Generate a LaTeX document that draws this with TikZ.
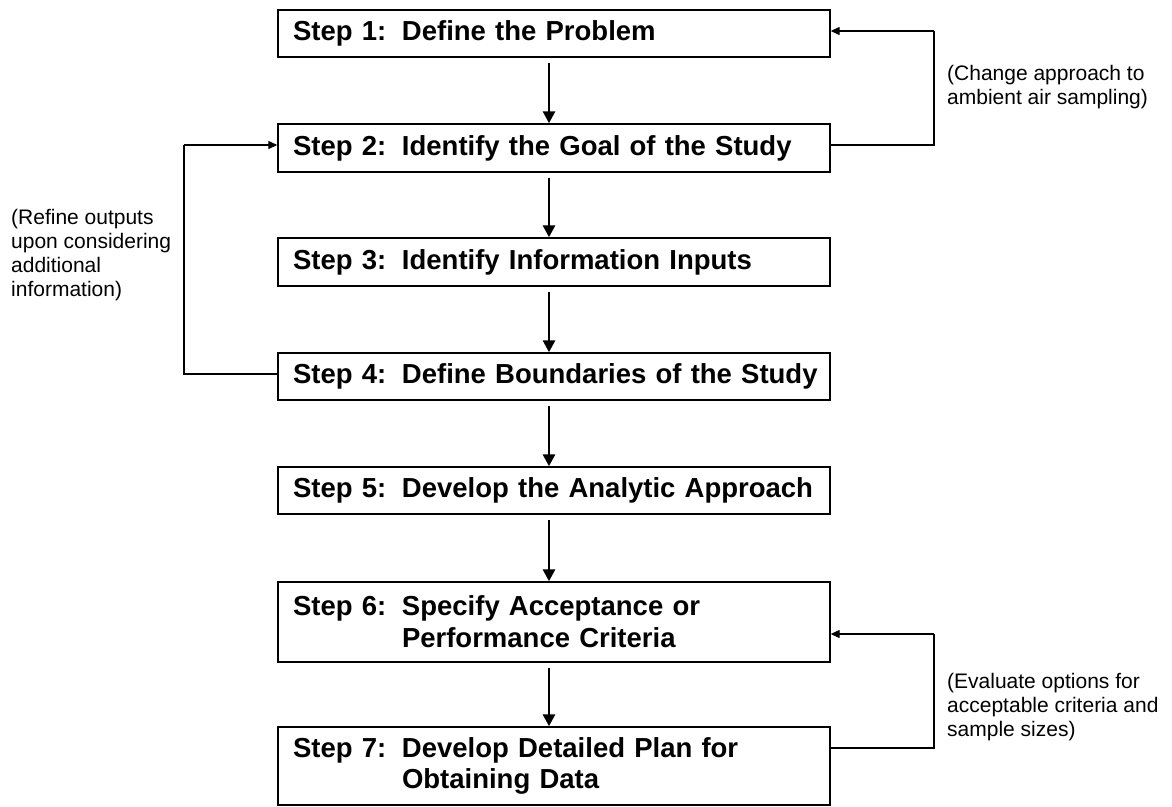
\documentclass[tikz,border=0pt]{standalone}
\usepackage{fontspec}
\setmainfont{Liberation Sans}
\usetikzlibrary{arrows.meta,calc}
\newcommand{\stp}[1]{\makebox[109pt][l]{#1}}
\begin{document}
\begin{tikzpicture}[x=1pt,y=1pt,
  stepbox/.style={draw, line width=1.4pt, minimum width=552pt, inner xsep=15pt, inner ysep=0pt,
    text width=522pt, align=left, font=\fontsize{27.5}{31.7}\selectfont\bfseries},
  mainarr/.style={line width=2.8pt, -{Triangle[length=12pt,width=12pt]}},
  fbline/.style={line width=1.3pt},
  fbarr/.style={line width=1.3pt, -{Triangle[length=9pt,width=8pt]}},
  note/.style={font=\fontsize{21}{24}\selectfont, align=left, anchor=west, inner sep=0pt}]
\useasboundingbox (0,0) rectangle (1172,-806);
\node[stepbox, minimum height=47pt] (s1) at (554,-33.5) {\mbox{\stp{Step 1:}Define the Problem}};
\node[stepbox, minimum height=48pt] (s2) at (554,-148) {\mbox{\stp{Step 2:}Identify the Goal of the Study}};
\node[stepbox, minimum height=48pt] (s3) at (554,-262) {\mbox{\stp{Step 3:}Identify Information Inputs}};
\node[stepbox, minimum height=47pt] (s4) at (554,-376.5) {\mbox{\stp{Step 4:}Define Boundaries of the Study}};
\node[stepbox, minimum height=47pt] (s5) at (554,-490.5) {\mbox{\stp{Step 5:}Develop the Analytic Approach}};
\node[stepbox, minimum height=80pt] (s6) at (554,-622) {\stp{Step 6:}Specify Acceptance or\\\hspace*{109pt}Performance Criteria};
\node[stepbox, minimum height=78pt] (s7) at (554,-766) {\stp{Step 7:}Develop Detailed Plan for\\\hspace*{109pt}Obtaining Data};
\foreach \a/\b in {s1/s2,s2/s3,s3/s4,s4/s5,s5/s6,s6/s7}
  \draw[mainarr] ([xshift=-5pt,yshift=-5pt]\a.south) -- ([xshift=-5pt]\b.north);
% right top feedback
\coordinate (rt1) at (934,-145);
\coordinate (rt2) at (934,-31);
\draw[fbline] ([yshift=3pt]s2.east) -- (rt1) -- (rt2);
\draw[fbarr] (rt2) -- ([yshift=2.5pt]s1.east);
% left feedback
\coordinate (lt1) at (184,-374);
\coordinate (lt2) at (184,-145);
\draw[fbline] ([yshift=2.5pt]s4.west) -- (lt1) -- (lt2);
\draw[fbarr] (lt2) -- ([yshift=3pt]s2.west);
% bottom right feedback
\coordinate (rb1) at (934,-748);
\coordinate (rb2) at (934,-634);
\draw[fbline] ([yshift=18pt]s7.east) -- (rb1) -- (rb2);
\draw[fbarr] (rb2) -- ([yshift=-12pt]s6.east);
% notes
\node[note] (n1) at (947,-87) {(Change approach to\\ambient air sampling)};
\node[note] (n2) at (11,-255) {(Refine outputs\\upon considering\\additional\\information)};
\node[note] (n3) at (947,-707) {(Evaluate options for\\acceptable criteria and\\sample sizes)};
\end{tikzpicture}
\end{document}
